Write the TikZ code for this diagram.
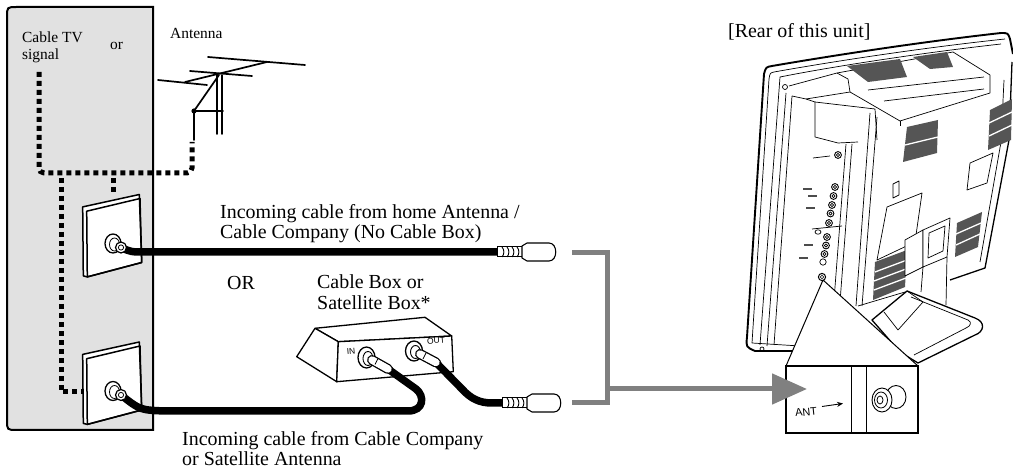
\documentclass[tikz,border=0pt]{standalone}
\usepackage{fontspec}
\setmainfont{Liberation Serif}
\newfontfamily\sansf{Liberation Sans}
\usetikzlibrary{arrows.meta}
\definecolor{wallgray}{RGB}{225,225,225}
\definecolor{arrowgray}{RGB}{128,128,128}
\definecolor{ventgray}{RGB}{85,85,85}
\begin{document}
\begin{tikzpicture}[x=1bp,y=-1bp,
  lblbig/.style={font=\fontsize{20}{21}\selectfont, inner sep=0pt, anchor=base west},
  lblsmall/.style={font=\fontsize{15.5}{18}\selectfont, inner sep=0pt, anchor=base west},
  lblsans/.style={font=\sansf\fontsize{8.5}{9}\selectfont, inner sep=0pt, rotate=5},
  dotl/.style={line width=5bp, dash pattern=on 5bp off 4bp},
  coax/.style={line width=7.5bp, line cap=round},
  antl/.style={line width=1.7bp, line cap=round},
  boxl/.style={line width=1.3bp, line join=round, fill=white},
  tvin/.style={line width=0.7bp},
  vent/.style={fill=ventgray},
  ventband/.style={white, line width=1.3bp},
  grayline/.style={draw=arrowgray, line width=5bp},
  wallplate/.pic={
    \draw[fill=white, line width=1.5bp, line join=round] (-30.3,-36.6) -- (26.3,-49) -- (28.7,19) -- (-25.7,33.4) -- (-29.7,32.4) -- cycle;
    \draw[line width=1.5bp, line join=round] (-26.3,-32.3) -- (27,-45) -- (28.7,19) -- (-25.7,33.4) -- cycle;
    \draw[fill=white, line width=1.3bp] (0,0) ellipse (8 and 9.5);
    \draw[line width=0.8bp] (1.5,1) ellipse (5 and 6.5);
  },
  plug/.pic={
    \draw[fill=white, line width=1bp] (0,-5) -- (25,-5) -- (25,5) -- (0,5) -- cycle;
    \foreach \i in {5,10,15,20} {\draw[line width=0.9bp] (\i,-5) .. controls (\i+2.5,-2) and (\i+2.5,2) .. (\i,5);}
    \draw[fill=white, line width=1.1bp, line join=round] (25,-6) -- (30,-9) -- (52,-9) .. controls (61,-9) and (61,9) .. (52,9) -- (30,9) -- (25,6) -- cycle;
  }
]
\useasboundingbox (0,0) rectangle (1013,468);

% ---------------- wall ----------------
\draw[line width=2bp, fill=wallgray] (153,7) -- (17,7) .. controls (7,7) .. (7,17) -- (7,420) .. controls (7,430) .. (17,430) -- (153,430) -- cycle;

% ---------------- antenna ----------------
\draw[antl] (208,57) -- (305,65);
\draw[antl] (190,71) -- (252,76);
\draw[antl] (158,80) -- (207,85);
\draw[antl] (185,82) -- (267,62);
\draw[antl] (217,75) -- (217,134);
\draw[antl] (222,75) -- (222,134);
\draw[antl] (219,75) -- (194,111);
\draw[antl] (194,111) -- (223,111);
\draw[antl] (194,111) -- (194,140);
\fill (194,111) circle (2.6);

% ---------------- dotted signal lines ----------------
\coordinate (ctv) at (39,72);
\coordinate (antfoot) at (192,142);
\draw[dotl, rounded corners=5bp] (ctv) -- (39,173) -- (192,173) -- (antfoot);
\draw[dotl] (61,178) -- (61,392) -- (83,392);
\draw[dotl] (113,178) -- (113,196);

% ---------------- labels ----------------
\node[lblsmall] (lcable) at (22,42.5) {Cable TV};
\node[lblsmall] (lsignal) at (22,60) {signal};
\node[lblsmall] (lor1) at (110,50) {or};
\node[lblsmall] (lant) at (170,39) {Antenna};
\node[lblbig] (lin1) at (220,218.5) {Incoming cable from home Antenna /};
\node[lblbig] (lin2) at (220,238.5) {Cable Company (No Cable Box)};
\node[lblbig] (lor2) at (227,289.5) {OR};
\node[lblbig] (lbox1) at (317,288.5) {Cable Box or};
\node[lblbig] (lbox2) at (317,310) {Satellite Box*};
\node[lblbig] (lsat1) at (182,445) {Incoming cable from Cable Company};
\node[lblbig] (lsat2) at (182,465) {or Satellite Antenna};
\node[lblbig] (lrear) at (728,37.5) {[Rear of this unit]};

% ---------------- wall plates ----------------
\pic (plateA) at (113,243.5) {wallplate};
\pic (plateB) at (113,391) {wallplate};

% ---------------- cable box ----------------
\coordinate (bA) at (315,328.3);
\coordinate (bB) at (425,317.3);
\coordinate (bC) at (451.7,336);
\coordinate (bD) at (338.3,341.7);
\coordinate (bE) at (453.3,371.7);
\coordinate (bF) at (336.7,381.7);
\coordinate (bG) at (296.7,356.7);
\draw[boxl] (bA) -- (bB) -- (bC) -- (bD) -- cycle;
\draw[boxl] (bA) -- (bD) -- (bF) -- (bG) -- cycle;
\draw[boxl] (bD) -- (bC) -- (bE) -- (bF) -- cycle;
\node[lblsans] (lIN) at (351,351.5) {IN};
\node[lblsans] (lOUT) at (436,340.5) {OUT};

% ---------------- cables ----------------
\coordinate (fA) at (121,247.5);
\coordinate (fB) at (121,395);
\coordinate (plugA) at (497,252);
\coordinate (plugB) at (502,403);
\coordinate (inF) at (388,369);
\coordinate (outF) at (436,362.5);
\draw[coax] (fA) .. controls (131,252) .. (146,252) -- (plugA);
\draw[coax] (fB) .. controls (140,410) .. (165,411) -- (408,411) .. controls (424,411) and (425,396) .. (416,389) -- (inF);
\draw[coax] (outF) -- (462,389) .. controls (471,399) and (480,403) .. (492,403) -- (plugB);

% ferrules on wall plates
\draw[fill=white, line width=1.2bp] (fA) circle (5.5);
\draw[line width=0.8bp] (fA) circle (2.6);
\draw[fill=white, line width=1.2bp] (fB) circle (5.5);
\draw[line width=0.8bp] (fB) circle (2.6);

% box connectors
\draw[fill=white, line width=1.3bp] (366.5,357.5) ellipse (8.5 and 10.5);
\draw[line width=0.9bp] (368,358.5) ellipse (5 and 7);
\draw[line width=10bp, line cap=round] (372,360) -- (inF);
\draw[white, line width=7.4bp, line cap=round] (372,360) -- (inF);
\draw[line width=0.8bp] (378,358.5) -- (375,364.5);
\draw[fill=white, line width=1.3bp] (414,351) ellipse (8.5 and 10);
\draw[line width=0.9bp] (415.5,352) ellipse (5 and 6.5);
\draw[line width=10bp, line cap=round] (420,354) -- (outF);
\draw[white, line width=7.4bp, line cap=round] (420,354) -- (outF);
\draw[line width=0.8bp] (426,353) -- (423,359);

% plugs
\pic at (plugA) {plug};
\pic at (plugB) {plug};

% ---------------- TV ----------------
\begin{scope}[line join=round]
% bezel
\draw[line width=1.9bp] (1013,54) -- (1010,39) .. controls (1008,33) .. (1001,33) .. controls (920,42) and (830,56) .. (772,66) .. controls (766,67) .. (764,74) -- (747,337) .. controls (746,347) .. (755,351) -- (800,351);
\draw[tvin] (1005,39) .. controls (920,48) and (830,62) .. (774,72) .. controls (770,73) .. (769,79) -- (752,343) -- (800,346);
\draw[tvin] (1001,44) .. controls (920,53) and (830,67) .. (780,77) -- (760,345);
\draw[tvin] (786,93) -- (767,346);
\draw[tvin] (792,96) -- (774,345);
\draw[tvin] (785,87) circle (2.5);
\draw[tvin] (762,349) circle (2);
% shoulder and cap
\draw[tvin] (789,86) -- (837,73) -- (848,79) -- (850,92);
\draw[tvin] (806,99) -- (850,92);
\draw[tvin] (792,96) -- (806,99) -- (815,102);
\draw[tvin] (815,102) -- (875,109) -- (877,140);
\draw[tvin] (815,102) -- (815,137) -- (838,143) -- (858,142);
% top box
\draw[tvin] (837,73) -- (953,52) -- (990,75) -- (990,93) -- (900,121) -- (850,92);
\draw[tvin] (868,90) -- (984,77);
\draw[tvin] (884,101) -- (984,89);
\draw[tvin] (900,121) -- (900,126);
% back edges
\draw[tvin] (877,117) -- (862,306);
\draw[tvin] (870,113) -- (856,306);
\draw[tvin] (846,144) -- (834,300);
\draw[tvin] (852,144) -- (840,302);
\draw[line width=1.3bp] (1012,62) -- (1009,140) -- (985,268) -- (950,280);
\draw[tvin] (1004,80) -- (1001,142) -- (980,262);
\draw[tvin] (858,306) -- (905,292);
% vents
\fill[vent] (847,66) -- (900,59) -- (907,77) -- (868,82) -- cycle;
\fill[vent] (913,57) -- (947,52) -- (953,67) -- (930,69) -- cycle;
\fill[vent] (990,110) -- (1012,99) -- (1011,140) -- (988,150) -- cycle;
\draw[ventband] (989,123) -- (1012,112);
\draw[ventband] (989,136) -- (1012,125);
\fill[vent] (907,127) -- (938,120) -- (937,153) -- (903,162) -- cycle;
\draw[ventband] (905,145) -- (938,137);
\fill[vent] (875,262) -- (907,250) -- (905,287) -- (873,300) -- cycle;
\draw[ventband] (875,272) -- (907,260);
\draw[ventband] (874,281) -- (906,269);
\draw[ventband] (874,290) -- (906,278);
\fill[vent] (957,223) -- (982,212) -- (978,247) -- (955,257) -- cycle;
\draw[ventband] (956,234) -- (981,223);
\draw[ventband] (956,245) -- (980,234);
% plates on the back
\draw[tvin] (887,207) -- (922,193) -- (915,242) -- (877,260) -- cycle;
\draw[tvin] (970,163) -- (993,153) -- (987,183) -- (967,190) -- cycle;
\draw[tvin] (893,184) -- (899,181) -- (899,195) -- (893,198) -- cycle;
% connectors on the side panel
\foreach \cx/\cy in {838/155, 835/187, 833.5/196, 832/205, 830.5/213.5, 829/223, 827/237, 826/245.5, 824.5/254}
  {\draw[line width=0.9bp, fill=white] (\cx,\cy) circle (3.4); \draw[line width=0.6bp] (\cx,\cy) circle (1.6);}
\draw[tvin] (823,262) circle (3.2);
\draw[tvin] (818,232) ellipse (3 and 2.2);
\foreach \lx/\ly in {803/188, 808/195, 806/207, 804/244, 799/257}
  {\fill[black!70] (\lx,\ly) rectangle ++(9,2.5);}
\draw[tvin] (813,158) -- (830,156);
\draw[tvin] (842,226) -- (812,229);
% stand
\draw[tvin, fill=white] (905,240) -- (923,230) -- (923,267) -- (905,276) -- cycle;
\draw[tvin, fill=white] (923,230) -- (950,218) -- (947,257) -- (923,267) -- cycle;
\draw[tvin] (929,233) -- (945,226) -- (943,251) -- (928,258) -- cycle;
\draw[line width=1.3bp, fill=white] (872,320) -- (907,291) -- (975,318) .. controls (986,322) and (984,332) .. (975,335) -- (918,363) -- (900,352) -- cycle;
\draw[tvin] (911,297) -- (968,320) .. controls (972,322) and (971,326) .. (966,328) -- (914,355);
\draw[tvin] (884,312) -- (898,330) -- (923,302) -- (907,291);
\draw[tvin] (923,267) -- (921,292);
\draw[tvin] (947,257) -- (946,305);
\end{scope}

% ---------------- gray bracket and arrow ----------------
\coordinate (brA) at (572,253);
\coordinate (brB) at (572,403);
\coordinate (brM) at (607,389);
\draw[grayline, line join=miter] (brA) -- (607,253) -- (607,403) -- (brB);

% ---------------- ANT detail ----------------
\coordinate (apex) at (823,280);
\draw[line width=1bp, fill=white, line join=round] (apex) -- (918,366) -- (786,366) -- cycle;
\draw[line width=1.1bp, fill=white] (786,366) rectangle (918,433);
\draw[line width=1bp] (851,366) -- (851,433);
\draw[line width=1bp] (866,366) -- (866,433);
\draw[line width=1bp, fill=white] (822,277) circle (3.6);
\draw[line width=0.6bp] (822,277) circle (1.7);
\node[font=\sansf\fontsize{11}{12}\selectfont, inner sep=0pt, rotate=6] (lantb) at (806,412) {ANT};
\coordinate (antA) at (822,406.5);
\coordinate (antB) at (843,403.5);
\draw[line width=0.9bp, -{Stealth[length=6bp,width=5bp]}] (antA) -- (antB);
\draw[line width=0.9bp, fill=white] (896,397) ellipse (10 and 11.5);
\draw[line width=0.9bp, fill=white] (882,400) ellipse (10 and 12);
\draw[line width=0.8bp] (881,400) ellipse (6.5 and 8);
\draw[line width=0.8bp] (880,400) ellipse (3 and 4);

\coordinate (antin) at (807,389);
\draw[grayline, -{Triangle[length=35bp,width=30bp]}] (brM) -- (antin);
\end{tikzpicture}
\end{document}
